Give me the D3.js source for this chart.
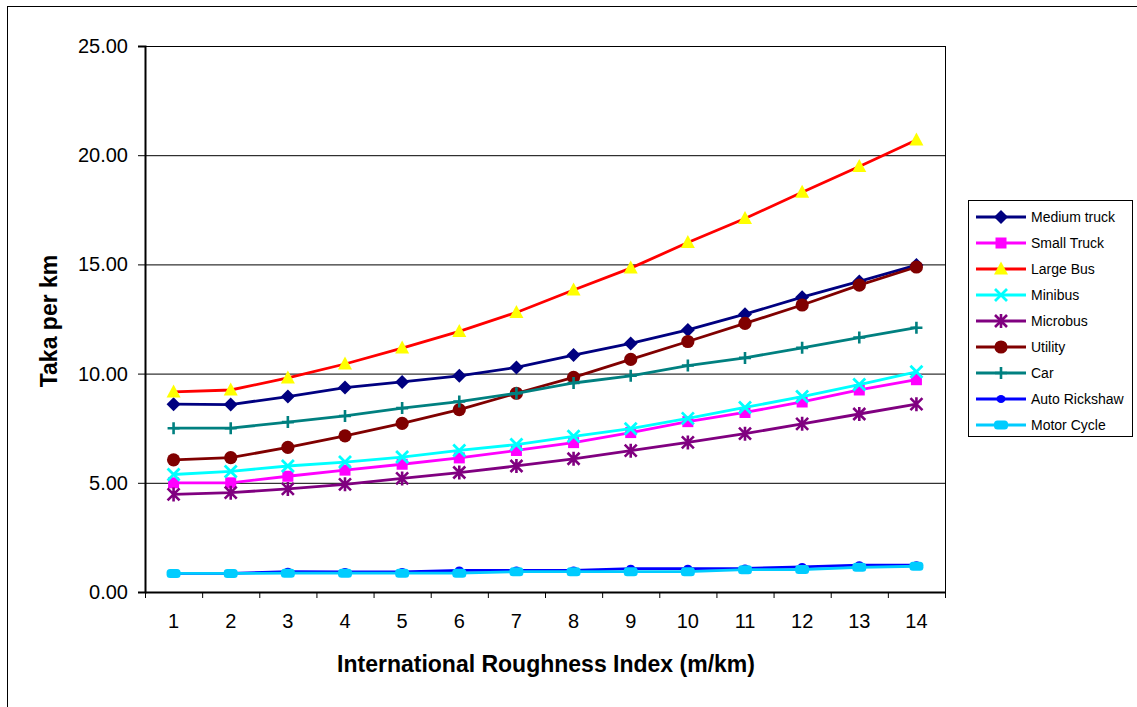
<!DOCTYPE html>
<html><head><meta charset="utf-8">
<script src="https://cdn.jsdelivr.net/npm/d3@7"></script>
<style>body{margin:0;background:#fff}svg{display:block}text{font-family:"Liberation Sans",Arial,sans-serif}</style>
</head><body><svg id="c" width="1137" height="707"></svg>
<script>
const categories = [1,2,3,4,5,6,7,8,9,10,11,12,13,14];
const yTicks = [0,5,10,15,20,25];
const mediumTruck = [8.6,8.58,8.95,9.36,9.62,9.9,10.28,10.85,11.38,12.0,12.72,13.5,14.22,14.97];
const smallTruck  = [5.0,5.0,5.3,5.58,5.85,6.14,6.48,6.84,7.3,7.8,8.22,8.7,9.25,9.72];
const largeBus    = [9.16,9.25,9.8,10.44,11.17,11.93,12.8,13.83,14.83,16.0,17.1,18.3,19.48,20.7];
const minibus     = [5.38,5.52,5.77,5.95,6.18,6.48,6.75,7.13,7.48,7.95,8.45,8.95,9.5,10.08];
const microbus    = [4.47,4.55,4.72,4.93,5.2,5.47,5.77,6.1,6.47,6.85,7.25,7.7,8.15,8.6];
const utility     = [6.05,6.15,6.62,7.15,7.72,8.35,9.1,9.83,10.65,11.47,12.3,13.14,14.05,14.88];
const car         = [7.5,7.5,7.78,8.06,8.42,8.72,9.1,9.57,9.9,10.37,10.72,11.18,11.65,12.1];
const autoRickshaw= [0.85,0.85,0.93,0.92,0.92,0.99,0.99,0.99,1.07,1.07,1.08,1.15,1.23,1.23];
const motorCycle  = [0.85,0.85,0.86,0.86,0.86,0.86,0.93,0.93,0.93,0.93,1.02,1.03,1.13,1.18];

const seriesNames = ["Medium truck","Small Truck","Large Bus","Minibus","Microbus","Utility","Car","Auto Rickshaw","Motor Cycle"];
const seriesValues = [mediumTruck,smallTruck,largeBus,minibus,microbus,utility,car,autoRickshaw,motorCycle];
const lineColors = ["#000080","#FF00FF","#FF0000","#00FFFF","#800080","#800000","#008080","#0000FF","#00CCFF"];
const markerColors = ["#000080","#FF00FF","#FFFF00","#00FFFF","#800080","#800000","#008080","#0000FF","#00CCFF"];
const markerTypes = ["diamond","square","triangle","x","star","circle","plus","smallcircle","pill"];

const svg = d3.select("#c");
svg.append("rect").attr("x",7.5).attr("y",6.5).attr("width",1140).attr("height",720)
  .attr("fill","none").attr("stroke","#000").attr("stroke-width",1);

const L=145,R=945,T=46,B=592;
const x = d3.scaleBand().domain(categories).range([L,R]);
const y = d3.scaleLinear().domain([0,25]).range([B,T]);

svg.append("g").selectAll("line").data(yTicks.filter(d=>d>0)).join("line")
  .attr("x1",L).attr("x2",R).attr("y1",d=>y(d)+0.5).attr("y2",d=>y(d)+0.5)
  .attr("stroke","#000").attr("stroke-width",1);
svg.append("line").attr("x1",R+0.5).attr("x2",R+0.5).attr("y1",T).attr("y2",B).attr("stroke","#000");

const ya = svg.append("g").attr("transform",`translate(${L},0)`)
  .call(d3.axisLeft(y).tickValues(yTicks).tickFormat(d3.format(".2f")).tickSize(7).tickPadding(10));
ya.select(".domain").attr("stroke","#000").attr("stroke-width",2);
ya.selectAll("text").attr("font-size",20).attr("fill","#000");
const xa = svg.append("g").attr("transform",`translate(0,${B})`)
  .call(d3.axisBottom(x).tickSize(0).tickPadding(22));
xa.select(".domain").attr("stroke","#000").attr("stroke-width",2);
xa.selectAll("text").attr("font-size",20).attr("fill","#000");
svg.append("g").selectAll("line").data(d3.range(categories.length+1)).join("line")
  .attr("x1",i=>L+i*x.step()+0.5).attr("x2",i=>L+i*x.step()+0.5)
  .attr("y1",B).attr("y2",B+6).attr("stroke","#000");

svg.append("text").attr("x",546).attr("y",672).attr("text-anchor","middle")
  .attr("font-size",23).attr("font-weight","bold").text("International Roughness Index (m/km)");
svg.append("text").attr("transform",`translate(57,321) rotate(-90)`).attr("text-anchor","middle")
  .attr("font-size",23).attr("font-weight","bold").text("Taka per km");

function drawMarker(g,type,cx,cy,color){
  const s=6;
  if(type==="diamond") g.append("path").attr("d",`M${cx},${cy-7}L${cx+7},${cy}L${cx},${cy+7}L${cx-7},${cy}Z`).attr("fill",color);
  else if(type==="square") g.append("rect").attr("x",cx-5.5).attr("y",cy-5.5).attr("width",11).attr("height",11).attr("fill",color);
  else if(type==="triangle") g.append("path").attr("d",`M${cx},${cy-7.5}L${cx+7},${cy+5.5}L${cx-7},${cy+5.5}Z`).attr("fill",color);
  else if(type==="circle") g.append("circle").attr("cx",cx).attr("cy",cy).attr("r",6.6).attr("fill",color);
  else if(type==="smallcircle") g.append("ellipse").attr("cx",cx).attr("cy",cy).attr("rx",4.5).attr("ry",4).attr("fill",color);
  else if(type==="pill") g.append("rect").attr("x",cx-7).attr("y",cy-4.5).attr("width",14).attr("height",9).attr("rx",3.5).attr("fill",color);
  else if(type==="x") g.append("path").attr("d",`M${cx-s},${cy-s}L${cx+s},${cy+s}M${cx-s},${cy+s}L${cx+s},${cy-s}`).attr("stroke",color).attr("stroke-width",2.8);
  else if(type==="plus") g.append("path").attr("d",`M${cx-s},${cy}L${cx+s},${cy}M${cx},${cy-s}L${cx},${cy+s}`).attr("stroke",color).attr("stroke-width",2.6);
  else if(type==="star") g.append("path").attr("d",`M${cx-s},${cy-s}L${cx+s},${cy+s}M${cx-s},${cy+s}L${cx+s},${cy-s}M${cx},${cy-s-1}L${cx},${cy+s+1}`).attr("stroke",color).attr("stroke-width",2.6);
}

const line = d3.line().x((d,i)=>x(categories[i])+x.bandwidth()/2).y(d=>y(d));
for(let k=0;k<seriesValues.length;k++){
  const g=svg.append("g");
  g.append("path").attr("d",line(seriesValues[k])).attr("fill","none")
    .attr("stroke",lineColors[k]).attr("stroke-width",2.8);
  seriesValues[k].forEach((v,i)=>drawMarker(g,markerTypes[k],x(categories[i])+x.bandwidth()/2,y(v),markerColors[k]));
}

const lg = svg.append("g");
lg.append("rect").attr("x",968.5).attr("y",200.5).attr("width",164).attr("height",236)
  .attr("fill","#fff").attr("stroke","#000");
seriesNames.forEach((n,k)=>{
  const yy = 217 + k*26;
  const g = lg.append("g");
  g.append("line").attr("x1",976).attr("x2",1026).attr("y1",yy).attr("y2",yy).attr("stroke",lineColors[k]).attr("stroke-width",2.8);
  drawMarker(g,markerTypes[k],1001,yy,markerColors[k]);
  g.append("text").attr("x",1031).attr("y",yy+5).attr("font-size",14).attr("fill","#000").text(n);
});
</script></body></html>
